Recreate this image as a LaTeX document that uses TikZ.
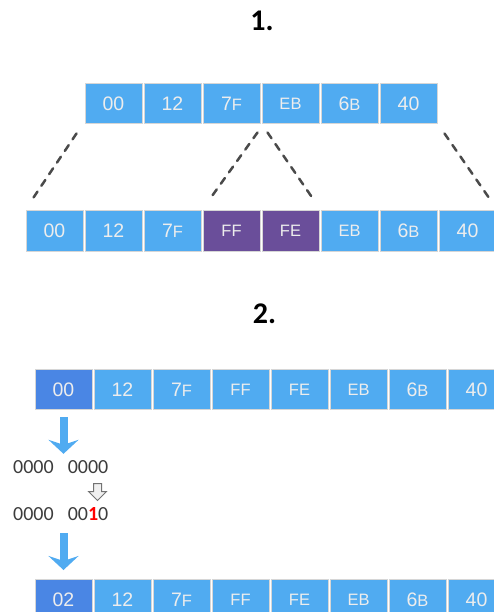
\documentclass[tikz,border=0pt]{standalone}
\usepackage{fontspec}
\setmainfont{Carlito}
\newfontfamily\cellfont{Liberation Sans}
\usetikzlibrary{arrows.meta, shapes.arrows, positioning}

\definecolor{cellblue}{HTML}{50ABF1}
\definecolor{celldark}{HTML}{4A86E4}
\definecolor{cellpurple}{HTML}{6A4E9A}
\definecolor{cellline}{HTML}{D6D6D6}
\definecolor{celltext}{HTML}{EDEDED}
\definecolor{guidegray}{HTML}{4A4A4A}
\definecolor{bitgray}{HTML}{3C3C3C}

% smaller letters inside the byte cells
\newcommand{\lo}[1]{{\fontsize{16.5}{16.5}\selectfont #1}}

\tikzset{
    cell/.style={draw=cellline, line width=1pt, fill=cellblue, minimum width=57pt,
        minimum height=40pt, inner sep=0pt, text=celltext,
        font=\cellfont\fontsize{19.5}{19.5}\selectfont},
    newcell/.style={cell, fill=cellpurple},
    curcell/.style={cell, fill=celldark},
    guide/.style={guidegray, line width=2.5pt, line cap=round, dash pattern=on 7pt off 7pt},
    flow/.style={cellblue, line width=8pt, -{Stealth[length=14pt, width=30pt, inset=5pt]}},
    bits/.style={text=bitgray, inner sep=2pt, font=\fontsize{20}{20}\selectfont},
    title/.style={font=\bfseries\fontsize{30}{30}\selectfont}
}

\begin{document}
\begin{tikzpicture}[x=1pt, y=-1pt]
    \useasboundingbox (0,0) rectangle (494,612);

    % part 1: inserting two bytes
    \node(one)[title] at (262,21) {1.};
    \foreach \v [count=\i from 0] in {00,12,7\lo{F},\lo{EB},6\lo{B},40}
        \node(t\i)[cell] at (113.5+59*\i,104) {\v};
    \foreach \v/\s [count=\i from 0] in {00/cell,12/cell,7\lo{F}/cell,\lo{FF}/newcell,
            \lo{FE}/newcell,\lo{EB}/cell,6\lo{B}/cell,40/cell}
        \node(b\i)[\s] at (54.5+59*\i,231) {\v};

    \draw[guide] ([shift={(-8,9)}]t0.south west) -- ([shift={(6,-10)}]b0.north west);
    \draw[guide] ([shift={(-3,8)}]t2.south east) -- ([shift={(7,-11)}]b3.north west);
    \draw[guide] ([shift={(6,8)}]t3.south west) -- ([shift={(-6,-11)}]b4.north east);
    \draw[guide] ([shift={(7,9)}]t5.south east) -- ([shift={(-5,-9)}]b7.north east);

    % part 2: changing the first byte
    \node(two)[title] at (264.5,314) {2.};
    \foreach \v/\s [count=\i from 0] in {00/curcell,12/cell,7\lo{F}/cell,\lo{FF}/cell,
            \lo{FE}/cell,\lo{EB}/cell,6\lo{B}/cell,40/cell}
        \node(c\i)[\s] at (63.5+59*\i,389.5) {\v};
    \foreach \v/\s [count=\i from 0] in {02/curcell,12/cell,7\lo{F}/cell,\lo{FF}/cell,
            \lo{FE}/cell,\lo{EB}/cell,6\lo{B}/cell,40/cell}
        \node(d\i)[\s] at (63.5+59*\i,599.5) {\v};

    \node(bitsA)[bits, anchor=base west] at (11,473) {0000\hspace{14pt}0000};
    \node(bitsB)[bits, anchor=base west] at (11,520)
        {0000\hspace{14pt}00\textcolor{red}{\textbf{1}}0};
    \node(flip)[single arrow, draw=gray!90!black, line width=1pt, fill=gray!12, rotate=-90,
        inner sep=3.5pt, minimum height=17pt, single arrow head extend=5pt] at (97.5,490) {};

    \draw[flow] ([yshift=-7pt]c0.south) -- ([yshift=4pt]c0.south |- bitsA.north);
    \draw[flow] ([yshift=-11pt]c0.south |- bitsB.south) -- ([yshift=9pt]d0.north);
\end{tikzpicture}
\end{document}
